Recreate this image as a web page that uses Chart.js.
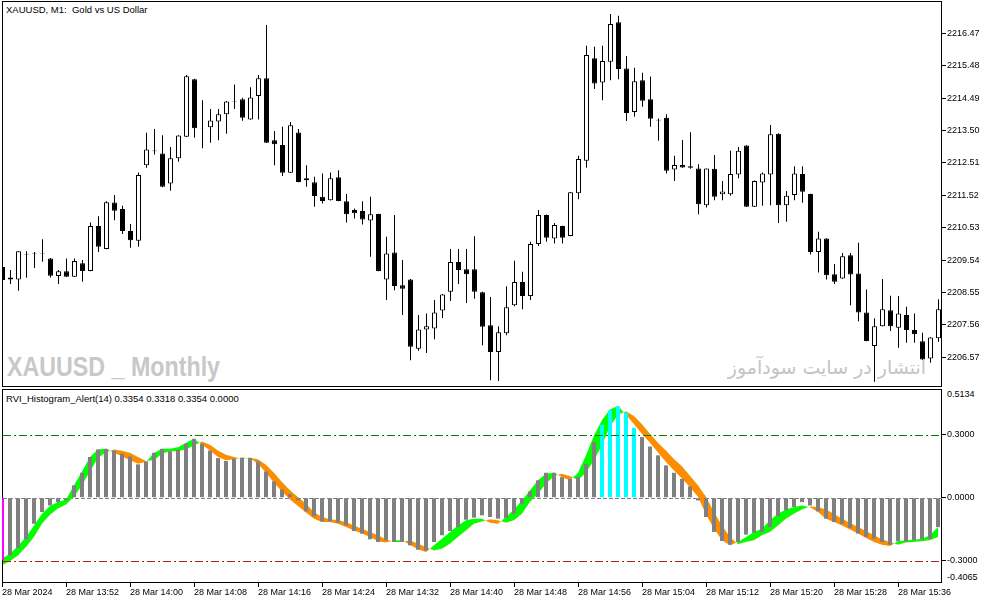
<!DOCTYPE html>
<html>
<head>
<meta charset="utf-8">
<script src="https://cdn.jsdelivr.net/npm/chart.js@4.4.1/dist/chart.umd.min.js"></script>
<style>
  body { margin: 0; background: #fff; width: 994px; height: 603px; overflow: hidden; position: relative;
         font-family: "Liberation Sans", Arial, sans-serif; }
  canvas { position: absolute; left: 0; }
  #price { top: 0; }
  #rvi { top: 388px; }
  .txt { position: absolute; white-space: pre; line-height: 12px; color: #000; }
  #watermark { left: 7px; top: 353px; font-size: 28px; line-height: 28px; font-weight: bold; color: #c8c8c8;
               transform: scaleX(0.83); transform-origin: 0 0; }
  #promo { right: 68px; top: 356px; font-family: "DejaVu Sans", sans-serif; font-size: 19px; line-height: 22px; color: #c4c4c4; }
</style>
</head>
<body>
<div class="txt" style="left:6px;top:4px;font-size:9.5px">XAUUSD, M1:  Gold vs US Dollar</div>
<div class="txt" id="watermark">XAUUSD _ Monthly</div>
<div class="txt" id="promo" dir="rtl">انتشار در سایت سودآموز</div>
<div class="txt" style="left:6px;top:393px;font-size:9.5px">RVI_Histogram_Alert(14) 0.3354 0.3318 0.3354 0.0000</div>
<div class="txt" id="rviTop" style="left:947px;top:388px;font-size:9px"></div>
<div class="txt" id="rviBottom" style="left:947px;top:571px;font-size:9px"></div>
<canvas id="price" width="994" height="388"></canvas>
<canvas id="rvi" width="994" height="215"></canvas>
<script>
// XAUUSD M1, 28 Mar 2024 13:44 .. 15:41, one value per bar
const openPrices = [
  2209.33, 2209.01, 2208.95, 2209.72, 2209.73, 2209.75, 2209.59, 2209.05, 2209.20, 2209.03,
  2209.44, 2209.21, 2210.58, 2209.88, 2211.30, 2211.10, 2210.43, 2210.13, 2212.44, 2212.89,
  2212.80, 2211.88, 2212.65, 2213.31, 2215.07, 2213.57, 2213.60, 2213.78, 2214.00, 2214.39,
  2214.46, 2213.84, 2214.56, 2215.10, 2213.20, 2213.06, 2212.21, 2213.44, 2212.04, 2211.92,
  2211.48, 2211.37, 2212.07, 2211.34, 2211.07, 2211.04, 2210.75, 2210.95, 2208.95, 2209.77,
  2208.77, 2208.95, 2206.83, 2207.42, 2207.45, 2208.00, 2208.57, 2209.48, 2209.26, 2209.26,
  2208.56, 2207.55, 2206.73, 2207.30, 2208.16, 2208.87, 2208.44, 2210.03, 2210.92, 2210.20,
  2210.58, 2210.28, 2211.58, 2212.58, 2215.71, 2214.97, 2215.60, 2216.81, 2215.40, 2214.07,
  2215.04, 2214.46, 2213.83, 2213.89, 2212.31, 2212.45, 2212.41, 2212.34, 2211.22, 2212.33,
  2211.55, 2211.55, 2212.16, 2213.04, 2211.17, 2211.91, 2212.16, 2213.40, 2211.22, 2211.53,
  2212.17, 2211.56, 2209.79, 2210.20, 2209.11, 2208.98, 2209.69, 2209.13, 2207.94, 2206.91,
  2207.52, 2208.01, 2207.47, 2207.86, 2207.40, 2207.06, 2206.53, 2207.15
];
const highPrices = [
  2209.39, 2209.24, 2209.81, 2209.81, 2209.79, 2210.18, 2209.60, 2209.24, 2209.59, 2209.59,
  2209.54, 2210.69, 2210.88, 2211.34, 2211.53, 2211.20, 2210.64, 2212.22, 2213.43, 2213.55,
  2213.36, 2213.00, 2213.36, 2215.20, 2215.08, 2214.43, 2214.16, 2214.16, 2214.40, 2214.91,
  2214.50, 2214.82, 2215.20, 2216.73, 2213.49, 2213.62, 2213.76, 2213.55, 2212.44, 2212.09,
  2212.19, 2212.22, 2212.29, 2211.56, 2211.12, 2211.34, 2211.48, 2210.96, 2210.25, 2210.92,
  2209.54, 2208.96, 2207.86, 2207.91, 2208.32, 2208.50, 2209.88, 2209.88, 2209.88, 2210.27,
  2208.57, 2208.41, 2207.52, 2208.74, 2209.52, 2209.18, 2210.10, 2211.07, 2210.93, 2210.67,
  2210.59, 2211.62, 2212.73, 2216.09, 2216.06, 2216.09, 2217.06, 2217.01, 2215.78, 2215.42,
  2215.27, 2215.15, 2213.87, 2214.00, 2212.73, 2213.21, 2213.45, 2212.47, 2212.34, 2212.75,
  2211.96, 2212.88, 2213.00, 2213.05, 2211.97, 2212.22, 2213.67, 2213.42, 2211.65, 2212.41,
  2212.41, 2211.57, 2210.41, 2210.21, 2209.42, 2209.76, 2209.76, 2210.07, 2208.64, 2207.76,
  2208.96, 2208.45, 2208.44, 2208.11, 2207.91, 2207.32, 2207.18, 2208.34
];
const lowPrices = [
  2208.90, 2208.81, 2208.60, 2209.00, 2209.30, 2209.49, 2209.01, 2208.81, 2209.02, 2209.02,
  2208.88, 2209.20, 2209.79, 2209.87, 2210.76, 2210.34, 2209.92, 2209.95, 2212.36, 2212.77,
  2211.77, 2211.66, 2212.55, 2213.30, 2213.28, 2212.96, 2213.13, 2213.20, 2213.40, 2214.16,
  2213.80, 2213.83, 2213.84, 2213.12, 2212.44, 2212.11, 2212.20, 2211.92, 2211.78, 2211.17,
  2211.27, 2211.36, 2211.34, 2210.69, 2210.81, 2210.63, 2209.64, 2209.20, 2208.32, 2208.62,
  2207.86, 2206.48, 2206.77, 2206.70, 2207.12, 2207.77, 2208.29, 2208.81, 2208.23, 2208.36,
  2206.94, 2205.87, 2205.84, 2207.24, 2208.13, 2208.04, 2208.32, 2209.97, 2210.10, 2210.05,
  2210.05, 2210.27, 2211.40, 2212.36, 2214.77, 2214.43, 2215.04, 2215.07, 2213.79, 2213.92,
  2214.23, 2213.62, 2213.19, 2212.19, 2211.96, 2212.36, 2212.33, 2210.94, 2211.15, 2211.37,
  2211.37, 2211.51, 2212.04, 2211.16, 2211.16, 2211.20, 2211.22, 2210.67, 2210.71, 2211.37,
  2211.29, 2209.71, 2209.16, 2208.95, 2208.81, 2208.97, 2208.16, 2207.67, 2207.06, 2205.82,
  2207.51, 2207.37, 2206.86, 2207.01, 2207.01, 2206.49, 2206.40, 2207.04
];
const closePrices = [
  2208.93, 2208.95, 2209.81, 2209.70, 2209.75, 2209.73, 2209.06, 2209.20, 2209.03, 2209.51,
  2209.21, 2210.58, 2209.95, 2211.31, 2211.05, 2210.43, 2210.15, 2212.14, 2212.92, 2212.87,
  2211.78, 2212.65, 2213.35, 2215.16, 2213.57, 2213.58, 2213.81, 2214.00, 2214.39, 2214.40,
  2213.89, 2214.51, 2215.10, 2213.13, 2213.08, 2212.21, 2213.66, 2211.93, 2211.98, 2211.50,
  2211.35, 2212.04, 2211.35, 2210.94, 2210.97, 2210.78, 2210.94, 2209.21, 2209.74, 2208.75,
  2208.66, 2206.89, 2207.42, 2207.52, 2207.94, 2208.49, 2209.48, 2209.24, 2209.11, 2208.57,
  2207.50, 2206.73, 2207.33, 2208.10, 2208.87, 2208.44, 2210.03, 2210.92, 2210.22, 2210.61,
  2210.22, 2211.61, 2212.63, 2215.81, 2214.94, 2215.63, 2216.76, 2215.38, 2214.04, 2215.01,
  2214.41, 2213.86, 2213.81, 2212.27, 2212.45, 2212.37, 2212.36, 2211.25, 2212.34, 2211.48,
  2211.64, 2212.17, 2212.88, 2211.17, 2211.96, 2212.19, 2213.39, 2211.22, 2211.51, 2212.19,
  2211.63, 2209.79, 2210.20, 2209.08, 2208.88, 2209.66, 2209.10, 2207.94, 2207.07, 2207.52,
  2208.04, 2207.52, 2207.91, 2207.40, 2207.27, 2206.50, 2207.17, 2208.04
];

// RVI_Histogram_Alert(14) buffers
const rviHist = [
  -0.298, -0.275, -0.240, -0.198, -0.124, -0.068, -0.037, -0.021, -0.013, 0.059,
  0.119, 0.194, 0.230, 0.233, 0.225, 0.210, 0.197, 0.159, 0.173, 0.214,
  0.233, 0.222, 0.229, 0.257, 0.281, 0.257, 0.225, 0.189, 0.175, 0.186,
  0.190, 0.190, 0.173, 0.125, 0.078, 0.040, 0.017, -0.013, -0.065, -0.089,
  -0.113, -0.113, -0.119, -0.132, -0.159, -0.171, -0.198, -0.211, -0.203, -0.211,
  -0.211, -0.227, -0.248, -0.252, -0.211, -0.179, -0.159, -0.140, -0.105, -0.095,
  -0.084, -0.092, -0.100, -0.097, -0.076, -0.029, 0.030, 0.083, 0.119, 0.119,
  0.098, 0.090, 0.098, 0.162, 0.265, 0.348, 0.416, 0.435, 0.405, 0.333,
  0.289, 0.244, 0.202, 0.154, 0.119, 0.090, 0.054, -0.013, -0.092, -0.163,
  -0.206, -0.224, -0.211, -0.176, -0.167, -0.163, -0.140, -0.087, -0.060, -0.044,
  -0.021, -0.037, -0.065, -0.100, -0.116, -0.124, -0.144, -0.171, -0.187, -0.195,
  -0.211, -0.224, -0.208, -0.208, -0.203, -0.198, -0.195, -0.140
];
const rviMain = [
  -0.290, -0.267, -0.230, -0.187, -0.132, -0.076, -0.040, -0.021, -0.008, 0.059,
  0.125, 0.194, 0.230, 0.233, 0.214, 0.198, 0.178, 0.162, 0.172, 0.213,
  0.233, 0.233, 0.241, 0.262, 0.281, 0.252, 0.225, 0.194, 0.178, 0.183,
  0.192, 0.188, 0.162, 0.119, 0.071, 0.030, -0.008, -0.040, -0.071, -0.100,
  -0.116, -0.116, -0.124, -0.140, -0.156, -0.171, -0.187, -0.208, -0.214, -0.203,
  -0.203, -0.224, -0.246, -0.259, -0.227, -0.195, -0.163, -0.132, -0.108, -0.100,
  -0.100, -0.119, -0.124, -0.092, -0.056, -0.013, 0.035, 0.083, 0.114, 0.119,
  0.098, 0.083, 0.119, 0.202, 0.297, 0.370, 0.420, 0.437, 0.395, 0.350,
  0.305, 0.262, 0.215, 0.170, 0.130, 0.092, 0.050, 0.005, -0.080, -0.148,
  -0.203, -0.227, -0.211, -0.187, -0.163, -0.148, -0.108, -0.076, -0.056, -0.044,
  -0.037, -0.045, -0.068, -0.100, -0.116, -0.132, -0.151, -0.171, -0.192, -0.211,
  -0.224, -0.230, -0.208, -0.203, -0.200, -0.195, -0.179, -0.140
];
const rviSignal = [
  -0.322, -0.303, -0.275, -0.235, -0.187, -0.124, -0.081, -0.052, -0.032, 0.003,
  0.059, 0.125, 0.189, 0.217, 0.230, 0.224, 0.214, 0.194, 0.175, 0.178,
  0.210, 0.221, 0.222, 0.230, 0.249, 0.268, 0.252, 0.225, 0.205, 0.194,
  0.186, 0.190, 0.183, 0.157, 0.119, 0.075, 0.035, 0.003, -0.029, -0.068,
  -0.092, -0.103, -0.108, -0.116, -0.132, -0.148, -0.163, -0.179, -0.198, -0.211,
  -0.211, -0.203, -0.219, -0.235, -0.251, -0.243, -0.219, -0.187, -0.156, -0.124,
  -0.113, -0.103, -0.108, -0.119, -0.108, -0.076, -0.021, 0.019, 0.067, 0.103,
  0.114, 0.103, 0.083, 0.119, 0.178, 0.250, 0.340, 0.395, 0.412, 0.390,
  0.350, 0.305, 0.262, 0.225, 0.185, 0.150, 0.105, 0.060, 0.005, -0.068,
  -0.132, -0.187, -0.222, -0.211, -0.203, -0.179, -0.163, -0.132, -0.100, -0.076,
  -0.056, -0.042, -0.044, -0.056, -0.076, -0.100, -0.119, -0.140, -0.159, -0.179,
  -0.198, -0.211, -0.224, -0.214, -0.211, -0.208, -0.203, -0.187
];

const priceTicks = [2216.47, 2215.48, 2214.49, 2213.50, 2212.51, 2211.52, 2210.53, 2209.54, 2208.55, 2207.56, 2206.57];
const rviLevels = [0.3, 0, -0.3];
const rviLevelColors = ["rgb(0,128,0)", "rgb(128,128,128)", "rgb(178,34,34)"];
const rviMax = 0.5134;
const rviMin = -0.4065;
const timeTickBars = [0, 8, 16, 24, 32, 40, 48, 56, 64, 72, 80, 88, 96, 104, 112];
const timeTickLabels = [
  "28 Mar 2024", "28 Mar 13:52", "28 Mar 14:00", "28 Mar 14:08", "28 Mar 14:16",
  "28 Mar 14:24", "28 Mar 14:32", "28 Mar 14:40", "28 Mar 14:48", "28 Mar 14:56",
  "28 Mar 15:04", "28 Mar 15:12", "28 Mar 15:20", "28 Mar 15:28", "28 Mar 15:36"
];

const bars = openPrices.map((_, i) => i);
const tickFont = { family: "'Liberation Sans', Arial, sans-serif", size: 9 };

document.getElementById("rviTop").textContent = rviMax.toFixed(4);
document.getElementById("rviBottom").textContent = rviMin.toFixed(4);

// keep the plot boxes where MT4 puts them: fixed axis sizes, no label padding
const fitRight = (scale) => {
  scale.width = 52;
  scale.paddingTop = 0;
  scale.paddingBottom = 0;
};
const fitBottom = (scale) => {
  scale.height = 20;
  scale.paddingLeft = 0;
  scale.paddingRight = 0;
};

// black box round a pane, MT4 style
const paneFrame = (hook) => ({
  id: "paneFrame",
  [hook]: (chart) => {
    const { ctx, chartArea: a } = chart;
    ctx.save();
    ctx.strokeStyle = "#000";
    ctx.lineWidth = 1;
    ctx.strokeRect(a.left - 0.5, a.top - 0.5, a.right - a.left, a.bottom - a.top);
    ctx.restore();
  },
});

const baseOptions = {
  responsive: false,
  animation: false,
  devicePixelRatio: 1,
  events: [],
  plugins: { legend: { display: false }, tooltip: { enabled: false } },
};

new Chart(document.getElementById("price"), {
  type: "bar",
  data: {
    datasets: [
      {
        data: bars.map((i) => ({ x: i, y: [lowPrices[i], highPrices[i]] })),
        backgroundColor: "#000",
        borderWidth: 0,
        barThickness: 1,
        grouped: false,
        inflateAmount: 0,
        clip: 0,
        order: 2,
      },
      {
        data: bars.map((i) => ({ x: i, y: [openPrices[i], closePrices[i]] })),
        backgroundColor: bars.map((i) => (closePrices[i] >= openPrices[i] ? "#fff" : "#000")),
        borderColor: "#000",
        borderWidth: 1,
        borderSkipped: false,
        barThickness: 5,
        grouped: false,
        inflateAmount: 0,
        clip: 0,
        order: 1,
      },
    ],
  },
  options: {
    ...baseOptions,
    layout: { padding: { left: 3, top: 2, right: 0, bottom: 1 } },
    scales: {
      x: { type: "linear", offset: false, min: 0.0625, max: 117.4375, display: false },
      y: {
        position: "right",
        min: 2205.66,
        max: 2217.43,
        afterFit: fitRight,
        afterBuildTicks: (s) => { s.ticks = priceTicks.map((v) => ({ value: v })); },
        ticks: { callback: (v) => v.toFixed(2), font: tickFont, color: "#000", padding: 1 },
        grid: { drawOnChartArea: false, tickLength: 4, color: "#000" },
        border: { display: false },
      },
    },
  },
  plugins: [paneFrame("afterDatasetsDraw")],
});

// horizontal level lines of the indicator window
const hLine = (ctx, a, y, color, dash) => {
  ctx.save();
  ctx.globalAlpha = 1;
  ctx.globalCompositeOperation = "source-over";
  ctx.lineWidth = 1;
  ctx.lineCap = "butt";
  ctx.setLineDash(dash);
  ctx.strokeStyle = color;
  ctx.beginPath();
  ctx.moveTo(a.left, y);
  ctx.lineTo(a.right, y);
  ctx.stroke();
  ctx.restore();
};

const rviLines = {
  id: "rviLines",
  beforeDatasetsDraw: (chart) => {
    const { ctx, chartArea: a, scales } = chart;
    hLine(ctx, a, Math.round(scales.y.getPixelForValue(rviLevels[1])) + 0.5, rviLevelColors[1], [4, 2]);
  },
  afterDraw: (chart) => {
    const { ctx, chartArea: a, scales } = chart;
    [0, 2].forEach((k) => {
      hLine(ctx, a, Math.round(scales.y.getPixelForValue(rviLevels[k])) + 0.5, rviLevelColors[k], [8, 3, 2, 3]);
    });
  },
};

new Chart(document.getElementById("rvi"), {
  type: "bar",
  data: {
    datasets: [
      {
        type: "bar",
        data: bars.map((i) => ({ x: i, y: rviHist[i] })),
        backgroundColor: bars.map((i) => (i === 0 ? "#ff00ff" : rviHist[i] > rviLevels[0] ? "#00ffff" : "#808080")),
        borderWidth: 0,
        barThickness: 4,
        grouped: false,
        inflateAmount: 0,
        clip: { left: 1, top: 0, right: 0, bottom: 0 },
        order: 0,
      },
      {
        type: "line",
        data: bars.map((i) => ({ x: i, y: rviMain[i] })),
        borderColor: "transparent",
        borderWidth: 0,
        pointRadius: 0,
        fill: { target: "+1", above: "#00ff00", below: "#ff8c00" },
        order: 1,
      },
      {
        type: "line",
        data: bars.map((i) => ({ x: i, y: rviSignal[i] })),
        borderColor: "transparent",
        borderWidth: 0,
        pointRadius: 0,
        fill: false,
        order: 2,
      },
    ],
  },
  options: {
    ...baseOptions,
    layout: { padding: { left: 3, top: 2, right: 0, bottom: 0 } },
    scales: {
      x: {
        type: "linear",
        offset: false,
        min: 0.125,
        max: 117.5,
        afterFit: fitBottom,
        afterBuildTicks: (s) => { s.ticks = timeTickBars.map((v) => ({ value: v })); },
        ticks: {
          callback: (v, idx) => timeTickLabels[idx],
          align: "start",
          autoSkip: false,
          maxRotation: 0,
          padding: 0,
          font: tickFont,
          color: "#000",
        },
        grid: { drawOnChartArea: false, offset: false, tickLength: 4, color: "#000" },
        border: { display: false },
      },
      y: {
        position: "right",
        min: rviMin,
        max: rviMax,
        afterFit: fitRight,
        afterBuildTicks: (s) => { s.ticks = rviLevels.map((v) => ({ value: v })); },
        ticks: { callback: (v) => v.toFixed(4), font: tickFont, color: "#000", padding: 1 },
        grid: { drawOnChartArea: false, tickLength: 4, color: "#000" },
        border: { display: false },
      },
    },
  },
  plugins: [paneFrame("beforeDatasetsDraw"), rviLines],
});
</script>
</body>
</html>
